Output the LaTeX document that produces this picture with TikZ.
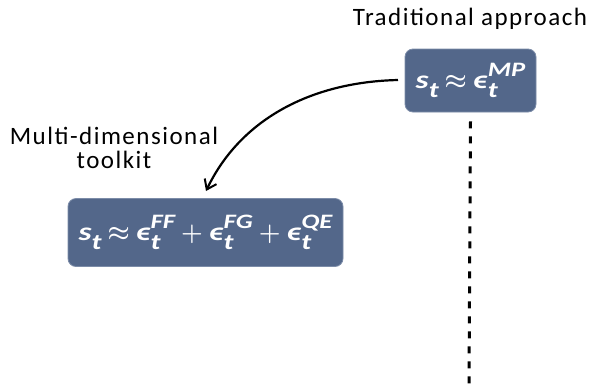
\documentclass[tikz,border=0pt]{standalone}
\usepackage{fontspec}
\setmainfont{Carlito}
\newfontfamily\formfont[FakeStretch=1.3]{Carlito}
\usetikzlibrary{arrows.meta}

\definecolor{boxblue}{HTML}{53678A}
\definecolor{boxedge}{HTML}{7C8CA8}

% formula pieces: bold italic, subscript t with stacked superscript
\newcommand\fsub[1]{\raisebox{-9pt}{\fontsize{22}{22}\selectfont #1}}
\newcommand\fsup[1]{\raisebox{12pt}{\fontsize{20.5}{20.5}\selectfont #1}}
\newcommand\epst[1]{\char"03F5\makebox[0pt][l]{\fsub{t}}\fsup{#1}}
\newcommand\fop[1]{\hspace{6pt}{\fontsize{23}{23}\selectfont\boldmath$#1$}\hspace{6pt}}

\tikzset{
  formula/.style={fill=boxblue, draw=boxedge, line width=0.8pt, rounded corners=8pt,
    text=white, font=\formfont\fontsize{25.5}{26}\selectfont\bfseries\itshape,
    inner sep=0pt, align=center},
  label/.style={font=\fontsize{25}{24}\selectfont\addfontfeatures{LetterSpace=6}, align=center, inner sep=0pt},
  link/.style={line width=2.2pt, -{Straight Barb[length=9pt,width=13pt,line width=2pt]}},
  track/.style={line width=3pt, dash pattern=on 7pt off 8pt}
}

\begin{document}
\begin{tikzpicture}[x=1pt,y=-1pt]
  \useasboundingbox (0,0) rectangle (592,384);
  \fill[white] (0,0) rectangle (592,384);

  \node[formula, minimum width=131pt, minimum height=63pt] (trad) at (470.5,80.5)
    {s\fsub{t}\fop{\approx}\epst{MP}};
  \node[label] (tradlabel) at (470,19) {Traditional approach};

  \node[formula, minimum width=275pt, minimum height=68pt] (multi) at (205.5,232.5)
    {s\fsub{t}\fop{\approx}\epst{FF}\fop{+}\epst{FG}\fop{+}\epst{QE}};
  \node[label] (multilabel) at (114,148) {Multi-dimensional\\toolkit};

  \coordinate (curvestart) at (398,80);
  \coordinate (tip) at (206,191);
  \draw[link] (curvestart) .. controls (310,82) and (240,120) .. (tip);

  \coordinate (trackend) at (469,384);
  \draw[track] ([yshift=-9pt]trad.south) -- (trackend);
\end{tikzpicture}
\end{document}
